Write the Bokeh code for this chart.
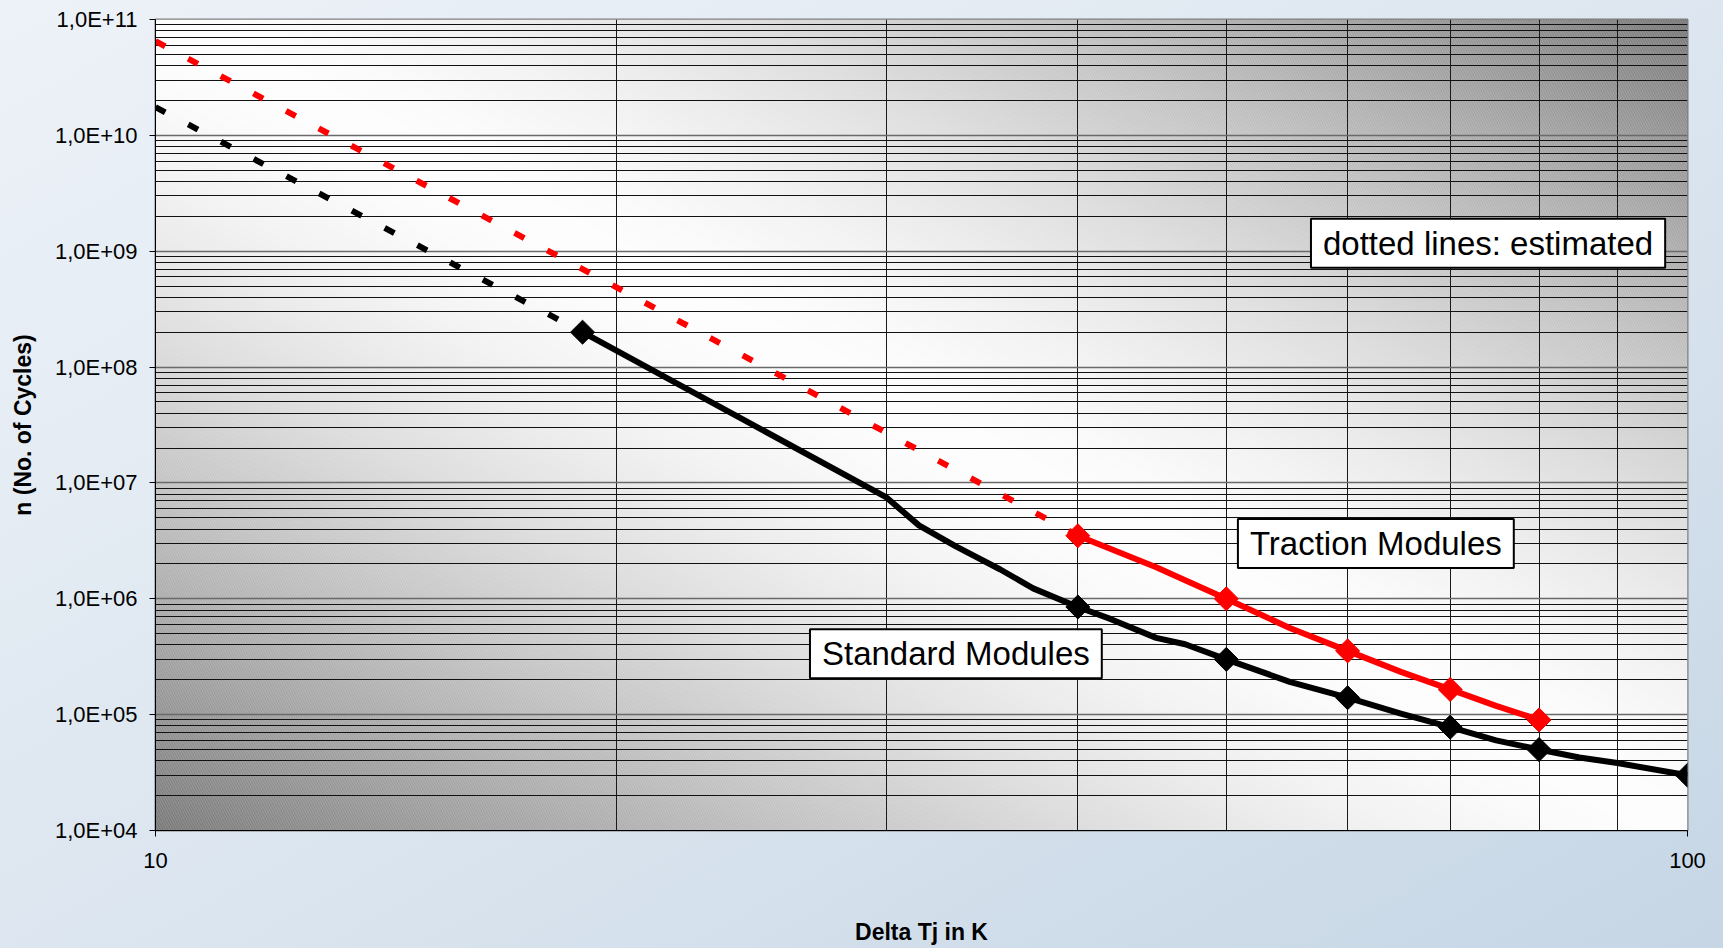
import numpy as np
from bokeh.plotting import figure
from bokeh.models import Range1d, FixedTicker, Label
from bokeh.embed import file_html
from bokeh.resources import INLINE

# ---- data: power cycling capability, n over Delta Tj ----
# standard modules, measured curve
std_dt = [19, 30, 31.5, 33.3, 35.6, 37.4, 40, 42, 45, 47, 50, 55, 60, 65, 70, 75, 80, 85, 90, 100]
std_n = [2.0e8, 7.5e6, 4.3e6, 2.83e6, 1.79e6, 1.23e6, 8.5e5, 6.7e5, 4.6e5, 4.05e5, 3.0e5,
         1.92e5, 1.4e5, 1.02e5, 7.8e4, 6.0e4, 5.0e4, 4.27e4, 3.82e4, 3.0e4]
std_marker_dt = [19, 40, 50, 60, 70, 80, 100]

# traction modules, measured curve
tra_dt = [40, 45, 50, 55, 60, 65, 70, 75, 80]
tra_n = [3.5e6, 1.87e6, 1.0e6, 5.6e5, 3.55e5, 2.34e5, 1.65e5, 1.19e5, 9.0e4]
tra_marker_dt = [40, 50, 60, 70, 80]

# estimated extensions towards small temperature swings
std_est_dt = [10, 19]
std_est_n = [1.75e10, 2.0e8]
tra_est_dt = [10, 19, 40]
tra_est_n = [6.5e10, 7.0e8, 3.5e6]

# axis ticks
x_ticks = [10, 100]
x_tick_labels = ["10", "100"]
x_minor = [20, 30, 40, 50, 60, 70, 80, 90]
y_ticks = [1e4, 1e5, 1e6, 1e7, 1e8, 1e9, 1e10, 1e11]
y_tick_labels = ["1,0E+04", "1,0E+05", "1,0E+06", "1,0E+07",
                 "1,0E+08", "1,0E+09", "1,0E+10", "1,0E+11"]
y_minor = [m * d for d in y_ticks[:-1] for m in range(2, 10)]

X_MIN, X_MAX = 10, 100
Y_MIN, Y_MAX = 1e4, 1e11

FONT = "Liberation Sans"

p = figure(width=1723, height=948, x_axis_type="log", y_axis_type="log",
           x_range=Range1d(X_MIN, X_MAX), y_range=Range1d(Y_MIN, Y_MAX),
           output_backend="svg", toolbar_location=None)
p.min_border_left = 155
p.min_border_right = 36
p.min_border_top = 19
p.min_border_bottom = 118
p.border_fill_alpha = 0
p.background_fill_color = "white"
p.outline_line_color = "#7f7f7f"
p.outline_line_width = 2

# plot-area shading: white along the main diagonal, grey towards the other corners
W, H = 766, 406
xn = np.linspace(0, 1, W)[None, :]
yn = 1 - np.linspace(0, 1, H)[:, None]   # row 0 is the bottom of the image
v = np.abs(xn - yn)
g = (254 - 135 * v ** 1.45).clip(0, 255).astype(np.uint8)
img = np.empty((H, W), dtype=np.uint32)
view = img.view(dtype=np.uint8).reshape((H, W, 4))
view[:, :, 0] = g
view[:, :, 1] = g
view[:, :, 2] = g
view[:, :, 3] = 255
p.image_rgba(image=[img], x=X_MIN, y=Y_MIN, dw=X_MAX - X_MIN, dh=Y_MAX - Y_MIN,
             level="image")
p.quad(left=[X_MIN], right=[X_MAX], bottom=[Y_MIN], top=[Y_MAX],
       fill_alpha=0, line_alpha=0, hatch_pattern="left_diagonal_line",
       hatch_color="white", hatch_alpha=0.18, hatch_scale=5, hatch_weight=1,
       level="image")

# axes
p.xaxis.ticker = FixedTicker(ticks=x_ticks, minor_ticks=x_minor)
p.yaxis.ticker = FixedTicker(ticks=y_ticks, minor_ticks=y_minor)
p.xaxis.major_label_overrides = {t: s for t, s in zip(x_ticks, x_tick_labels)}
p.yaxis.major_label_overrides = {t: s for t, s in zip(y_ticks, y_tick_labels)}

for ax in (p.xaxis[0], p.yaxis[0]):
    ax.major_label_text_font = FONT
    ax.major_label_text_font_size = "22px"
    ax.major_label_text_color = "black"
    ax.axis_label_text_font = FONT
    ax.axis_label_text_font_style = "bold"
    ax.axis_label_text_font_size = "23px"
    ax.axis_label_text_color = "black"
    ax.major_tick_line_color = "black"
    ax.major_tick_out = 6
    ax.major_tick_in = 0
    ax.minor_tick_line_color = None
    ax.axis_line_color = "black"

p.xaxis.axis_label = "Delta Tj in K"
p.yaxis.axis_label = "n (No. of Cycles)"
p.yaxis.major_label_standoff = 12
p.xaxis.major_label_standoff = 16
p.xaxis.axis_label_standoff = 48
p.yaxis.axis_label_standoff = 16

p.xgrid.grid_line_color = None
p.xgrid.minor_grid_line_color = "#1a1a1a"
p.xgrid.minor_grid_line_width = 1
p.ygrid.grid_line_color = "#6a6a6a"
p.ygrid.grid_line_width = 1.5
p.ygrid.minor_grid_line_color = "#111111"
p.ygrid.minor_grid_line_width = 1

# estimated (dotted) parts
p.line(std_est_dt, std_est_n, line_color="black", line_width=6,
       line_dash="11 26", line_cap="butt")
p.line(tra_est_dt, tra_est_n, line_color="#ff0000", line_width=6,
       line_dash="11 26", line_cap="butt")

# measured curves
p.line(std_dt, std_n, line_color="black", line_width=6, line_join="round")
p.line(tra_dt, tra_n, line_color="#ff0000", line_width=6, line_join="round")

std_lookup = dict(zip(std_dt, std_n))
tra_lookup = dict(zip(tra_dt, tra_n))
p.scatter(std_marker_dt, [std_lookup[d] for d in std_marker_dt], marker="square",
          angle=np.pi / 4, size=17, fill_color="black", line_color="black")
p.scatter(tra_marker_dt, [tra_lookup[d] for d in tra_marker_dt], marker="square",
          angle=np.pi / 4, size=17, fill_color="#ff0000", line_color="#ff0000")

# text boxes
def box(text, x, y):
    lab = Label(x=x, y=y, text=text, text_align="center", text_baseline="middle",
                text_font=FONT, text_font_size="33px", text_color="black",
                background_fill_color="white", border_line_color="black",
                border_line_width=2,
                padding=dict(left=12, right=12, top=6, bottom=6))
    p.add_layout(lab)

box("dotted lines: estimated", 74.1, 1.17e9)
box("Traction Modules", 62.6, 3.0e6)
box("Standard Modules", 33.3, 3.36e5)

html = file_html(p, INLINE, title="Power cycling capability")
style = ("<style>html, body {margin:0; padding:0; min-height:100vh; "
         "background: linear-gradient(to bottom right, #edf2f8 0%, #dbe5ef 55%, #c6d6e5 100%);}"
         "</style></head>")
html = html.replace("</head>", style, 1)
with open("out.html", "w") as f:
    f.write(html)
